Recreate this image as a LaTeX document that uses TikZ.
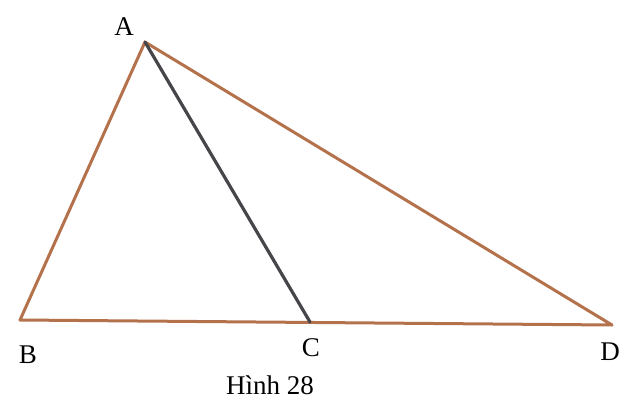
\documentclass[tikz,border=0pt]{standalone}
\usepackage{fontspec}
\setmainfont{Liberation Serif}
\usetikzlibrary{positioning}
\definecolor{sideBrown}{HTML}{B4724C}
\definecolor{sideGray}{HTML}{45454A}
\begin{document}
\begin{tikzpicture}[x=1pt,y=-1pt,
    side/.style={line width=3pt,draw=sideBrown,line cap=round,line join=round},
    cevian/.style={line width=3.2pt,draw=sideGray,line cap=round},
    lbl/.style={font=\fontsize{27}{29}\selectfont,inner sep=0pt}]
  \useasboundingbox (0,0) rectangle (621,402);
  % vertices
  \coordinate (A) at (145,42);
  \coordinate (B) at (20,320);
  \coordinate (C) at (310,322);
  \coordinate (D) at (612,325);
  % sides
  \draw[side] (B) -- (A) -- (D) -- cycle;
  \draw[cevian] (A) -- (C);
  % labels
  \node[lbl] (lA) at (124,27) {A};
  \node[lbl] (lB) at (28,355) {B};
  \node[lbl] (lC) at (311,348) {C};
  \node[lbl] (lD) at (610,352) {D};
  \node[lbl] (cap) at (270,385) {Hình 28};
\end{tikzpicture}
\end{document}
